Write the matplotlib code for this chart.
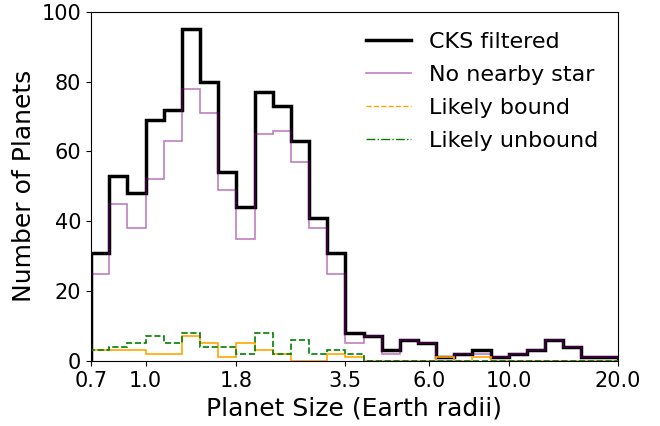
import numpy as np
import matplotlib
matplotlib.use("Agg")
import matplotlib.pyplot as plt
from matplotlib.lines import Line2D

# Histogram bins: 0.05 dex wide in log10(planet radius)
log_bin_width = 0.05
log_start = -0.15
n_bins = 29

cks_filtered = [31, 53, 48, 69, 72, 95, 80, 54, 44, 77, 73, 63, 41, 31, 8,
                7, 3, 6, 5, 1, 2, 3, 1, 2, 3, 6, 4, 1, 1]
no_nearby_star = [25, 45, 38, 52, 63, 78, 71, 49, 35, 65, 66, 57, 38, 25, 5,
                  7, 2, 6, 5, 0, 2, 2, 1, 2, 3, 6, 4, 1, 1]
likely_bound = [3, 3, 3, 2, 2, 7, 5, 1, 5, 3, 2, 0, 0, 2, 1,
                0, 0, 0, 0, 1, 0, 1, 0, 0, 0, 0, 0, 0, 0]
likely_unbound = [3, 4, 5, 7, 5, 8, 4, 4, 2, 8, 2, 6, 2, 3, 2,
                  0, 0, 0, 0, 0, 0, 0, 0, 0, 0, 0, 0, 0, 0]

# x ticks sit on bin edges (log10 radius), labelled with one decimal
xtick_logs = [-0.15, 0.0, 0.25, 0.55, 0.78, 1.0, 1.3]
ytick_values = [0, 20, 40, 60, 80, 100]

log_edges = log_start + log_bin_width * np.arange(n_bins + 1)
edges = 10 ** log_edges
centers = 10 ** (0.5 * (log_edges[:-1] + log_edges[1:]))

fig = plt.figure(figsize=(6.6, 4.26), dpi=100)
ax = fig.add_axes([0.138, 0.153, 0.798, 0.819])

ax.hist(centers, bins=edges, weights=cks_filtered, histtype="step",
        color="black", lw=2.5)
ax.hist(centers, bins=edges, weights=no_nearby_star, histtype="step",
        color="purple", alpha=0.5, lw=1.2)
ax.hist(centers, bins=edges, weights=likely_bound, histtype="step",
        color="orange", lw=1.2)
ax.hist(centers, bins=edges, weights=likely_unbound, histtype="step",
        color="green", lw=1.2, ls="--")

ax.set_xscale("log")
ax.set_xlim(edges[0], edges[-1])
ax.set_ylim(0, 100)
xtick_values = [10 ** v for v in xtick_logs]
ax.set_xticks(xtick_values)
ax.set_xticklabels([f"{v:.1f}" for v in xtick_values])
ax.xaxis.set_minor_locator(matplotlib.ticker.NullLocator())
ax.set_yticks(ytick_values)
ax.tick_params(labelsize=15)

ax.set_xlabel("Planet Size (Earth radii)", fontsize=18)
ax.set_ylabel("Number of Planets", fontsize=18)

handles = [
    Line2D([], [], color="black", lw=2.5),
    Line2D([], [], color="purple", alpha=0.5, lw=1.2),
    Line2D([], [], color="orange", lw=1.0, ls="--"),
    Line2D([], [], color="green", lw=1.0, ls="-."),
]
labels = ["CKS filtered", "No nearby star", "Likely bound", "Likely unbound"]
ax.legend(handles, labels, loc="upper right", frameon=False, fontsize=16,
          handlelength=2.0, labelspacing=0.58)

fig.savefig("out.png", dpi=100)
